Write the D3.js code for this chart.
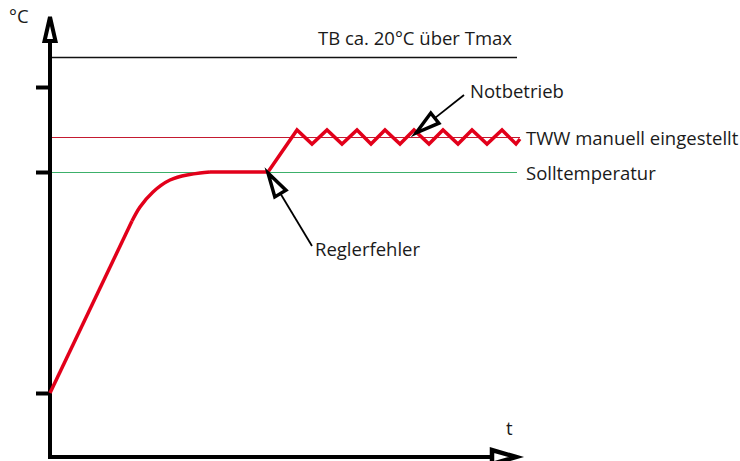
<!DOCTYPE html>
<meta charset="utf-8">
<script src="https://d3js.org/d3.v7.min.js"></script>
<style>
  body { margin: 0; background: #fff; }
  text { font-family: "Open Sans", sans-serif; fill: #1a1a1a; font-size: 18.5px; }
</style>
<div id="my_dataviz"></div>
<script>
// values in chart units: t along x, temperature along y
var riseLine = [[0, 16], [20.5, 59]];
var bendCurve = [[20.5, 59], [22.5, 62.5], [25.75, 66.25], [30, 69.25], [34.25, 70.5], [37.5, 71], [40, 71.25]];
var holdAndFault = [[40, 71.25], [54.5, 71.25], [61.75, 81.75], [65.5, 78.25], [69.25, 81.75],
  [73, 78.25], [76.75, 81.75], [80.25, 78.25], [83.75, 81.75], [87.5, 78.25], [91, 81.75],
  [94.75, 78.25], [98.25, 81.75], [102, 78.25], [105.5, 81.75], [109.25, 78.25], [113, 81.75],
  [116.5, 78.25], [117.5, 79.5]];

var levelNames = ["TB ca. 20°C über Tmax", "TWW manuell eingestellt", "Solltemperatur"];
var levelValues = [100, 80, 71.25];
var levelEnds = [116.75, 117.5, 116.75];

var yTicks = [16, 71.25, 92.5];

var notes = ["Reglerfehler", "Notbetrieb"];
var noteTips = [[54.5, 71], [91.5, 81]];
var noteTails = [[65.5, 52.75], [103.5, 90.5]];

var axisNames = ["°C", "t"];

// set the dimensions
var width = 740, height = 461;

var svg = d3.select("#my_dataviz")
  .append("svg")
  .attr("width", width)
  .attr("height", height);

var x = d3.scaleLinear().domain([0, 117.5]).range([50, 520]);
var y = d3.scaleLinear().domain([0, 100]).range([457, 57]);

// reference levels
var lineColors = ["#111", "#c41a30", "#3cb06a"];
var lineWidths = [1.6, 1, 1];
levelValues.forEach(function(v, i) {
  svg.append("line")
    .attr("x1", x(0.5)).attr("x2", x(levelEnds[i]))
    .attr("y1", y(v) + 0.5).attr("y2", y(v) + 0.5)
    .style("stroke", lineColors[i])
    .style("stroke-width", lineWidths[i]);
});

// level labels
svg.append("text")
  .attr("x", x(115.5)).attr("y", y(100) - 12)
  .style("text-anchor", "end")
  .text(levelNames[0]);
svg.append("text")
  .attr("x", x(119)).attr("y", y(80) + 8)
  .text(levelNames[1]);
svg.append("text")
  .attr("x", x(119)).attr("y", y(71.25) + 8)
  .text(levelNames[2]);

// y ticks
var yAxis = svg.append("g")
  .attr("transform", "translate(" + x(0) + ",0)")
  .call(d3.axisLeft(y).tickValues(yTicks).tickSize(14).tickSizeOuter(0).tickFormat(""));
yAxis.select(".domain").remove();
yAxis.selectAll(".tick line").style("stroke", "#000").style("stroke-width", 4);

// axis lines
svg.append("line")
  .attr("x1", x(0)).attr("x2", x(0))
  .attr("y1", y(-0.5)).attr("y2", y(104))
  .style("stroke", "#000").style("stroke-width", 4);
svg.append("line")
  .attr("x1", x(-0.5)).attr("x2", x(110))
  .attr("y1", y(0)).attr("y2", y(0))
  .style("stroke", "#000").style("stroke-width", 4);

// axis arrow heads
svg.append("path")
  .attr("d", "M" + x(0) + "," + y(110) + "L" + (x(0) + 5.5) + "," + y(104) + "L" + (x(0) - 5.5) + "," + y(104) + "Z")
  .style("fill", "#fff").style("stroke", "#000").style("stroke-width", 4);
svg.append("path")
  .attr("d", "M" + x(116.5) + "," + y(0) + "L" + x(110.5) + "," + (y(0) - 7) + "L" + x(110.5) + "," + (y(0) + 7) + "Z")
  .style("fill", "#fff").style("stroke", "#000").style("stroke-width", 4.5);

// axis names
svg.append("text").attr("x", 9).attr("y", 23).text(axisNames[0]);
svg.append("text").attr("x", x(114)).attr("y", y(5.5)).text(axisNames[1]);

// temperature curve
var red = "#e2001a";
var linear = d3.line().x(function(d) { return x(d[0]); }).y(function(d) { return y(d[1]); });
var smooth = d3.line().curve(d3.curveNatural).x(function(d) { return x(d[0]); }).y(function(d) { return y(d[1]); });
[linear(riseLine), smooth(bendCurve), linear(holdAndFault)].forEach(function(p) {
  svg.append("path")
    .attr("d", p)
    .style("fill", "none")
    .style("stroke", red)
    .style("stroke-width", 3.5)
    .style("stroke-linejoin", "miter");
});

// annotation arrows
notes.forEach(function(n, i) {
  var tx = x(noteTips[i][0]), ty = y(noteTips[i][1]);
  var ex = x(noteTails[i][0]), ey = y(noteTails[i][1]);
  var dx = ex - tx, dy = ey - ty, len = Math.sqrt(dx * dx + dy * dy);
  var ux = dx / len, uy = dy / len;
  var bx = tx + ux * 24, by = ty + uy * 24;
  svg.append("line")
    .attr("x1", bx).attr("y1", by).attr("x2", ex).attr("y2", ey)
    .style("stroke", "#000").style("stroke-width", 1.8);
  svg.append("path")
    .attr("d", "M" + tx + "," + ty + "L" + (bx - uy * 6.5) + "," + (by + ux * 6.5) + "L" + (bx + uy * 6.5) + "," + (by - ux * 6.5) + "Z")
    .style("fill", "#fff").style("stroke", "#000").style("stroke-width", 3.5);
});

svg.append("text").attr("x", x(66.25)).attr("y", y(50.25)).text(notes[0]);
svg.append("text").attr("x", x(105)).attr("y", y(89.75)).text(notes[1]);
</script>
